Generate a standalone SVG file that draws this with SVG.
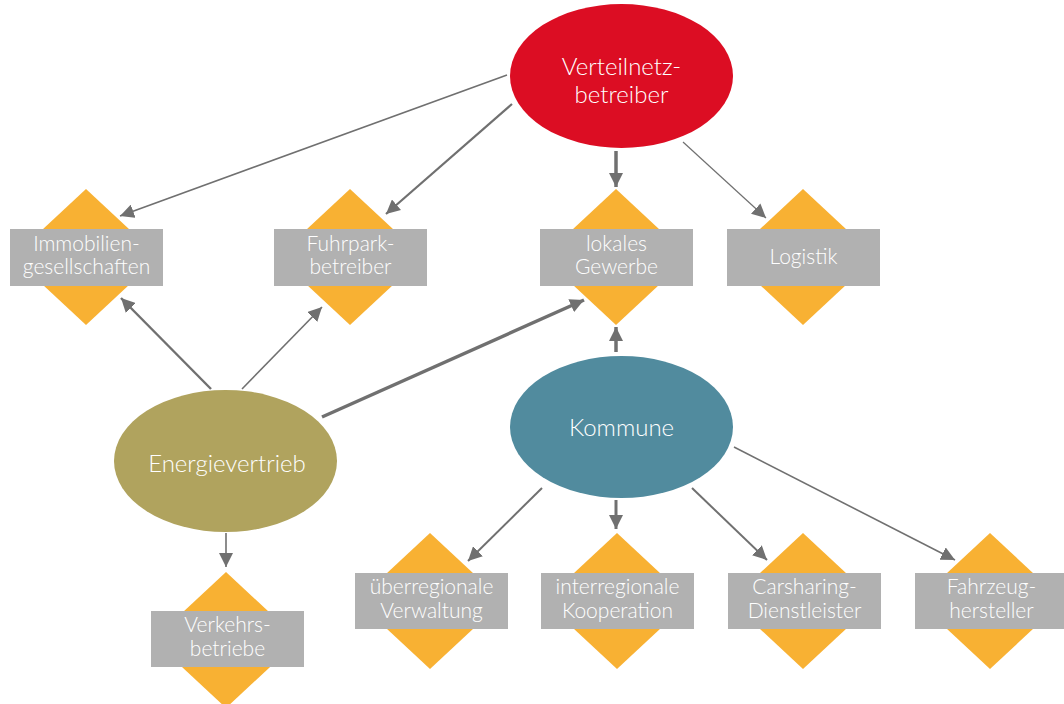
<svg xmlns="http://www.w3.org/2000/svg" width="1064" height="704" viewBox="0 0 1064 704">
  <style>
    .dia { fill: #F8B133; }
    .box { fill: #B1B1B1; }
    .lbl { font-family: Lato, "Open Sans", "Liberation Sans", sans-serif; font-weight: 300; fill: #FFFFFF; text-anchor: middle; }
    .sm { font-size: 21px; }
    .lg { font-size: 24px; }
    .edge { stroke: #707070; fill: none; }
  </style>
  <defs>
    <marker id="arrow" viewBox="0 0 14 14" refX="14" refY="7" markerWidth="14" markerHeight="14" markerUnits="userSpaceOnUse" orient="auto">
      <path d="M0,0 L14,7 L0,14 Z" fill="#707070"/>
    </marker>
  </defs>

  <!-- connectors -->
  <g id="connectors">
    <line class="edge" x1="507" y1="75" x2="120" y2="216" stroke-width="1.6" marker-end="url(#arrow)"/>
    <line class="edge" x1="512" y1="104" x2="386" y2="214" stroke-width="2.2" marker-end="url(#arrow)"/>
    <line class="edge" x1="616" y1="151" x2="616" y2="187" stroke-width="3.5" marker-end="url(#arrow)"/>
    <line class="edge" x1="683" y1="142" x2="766" y2="218" stroke-width="1.2" marker-end="url(#arrow)"/>
    <line class="edge" x1="211" y1="389" x2="121" y2="298" stroke-width="2.4" marker-end="url(#arrow)"/>
    <line class="edge" x1="242" y1="389" x2="322" y2="307" stroke-width="1.6" marker-end="url(#arrow)"/>
    <line class="edge" x1="322" y1="417" x2="584" y2="300" stroke-width="3.5" marker-end="url(#arrow)"/>
    <line class="edge" x1="616" y1="352" x2="616" y2="327" stroke-width="3.5" marker-end="url(#arrow)"/>
    <line class="edge" x1="226" y1="533" x2="226" y2="567" stroke-width="1.6" marker-end="url(#arrow)"/>
    <line class="edge" x1="542" y1="488" x2="468" y2="561" stroke-width="2" marker-end="url(#arrow)"/>
    <line class="edge" x1="616" y1="500" x2="616" y2="529" stroke-width="3" marker-end="url(#arrow)"/>
    <line class="edge" x1="692" y1="488" x2="767" y2="560" stroke-width="2" marker-end="url(#arrow)"/>
    <line class="edge" x1="734" y1="447" x2="955" y2="560" stroke-width="1.6" marker-end="url(#arrow)"/>
  </g>

  <!-- oval nodes -->
  <g id="verteilnetzbetreiber">
    <ellipse cx="621.5" cy="76" rx="111.5" ry="72" fill="#DC0D23"/>
    <text class="lbl lg" x="621.5" y="75">Verteilnetz-</text>
    <text class="lbl lg" x="621.5" y="103">betreiber</text>
  </g>
  <g id="energievertrieb">
    <ellipse cx="225.5" cy="461" rx="111.5" ry="71" fill="#B0A35E"/>
    <text class="lbl lg" x="227" y="472">Energievertrieb</text>
  </g>
  <g id="kommune">
    <ellipse cx="621.5" cy="427" rx="111.5" ry="71" fill="#518B9E"/>
    <text class="lbl lg" x="621.5" y="436">Kommune</text>
  </g>

  <!-- diamond nodes -->
  <g id="immobiliengesellschaften">
    <path class="dia" d="M86,189 L159,257 L86,325 L13,257 Z"/>
    <rect class="box" x="10" y="229" width="153" height="57"/>
    <text class="lbl sm" x="86.5" y="251">Immobilien-</text>
    <text class="lbl sm" x="86.5" y="274">gesellschaften</text>
  </g>
  <g id="fuhrparkbetreiber">
    <path class="dia" d="M350,189 L423,257 L350,325 L277,257 Z"/>
    <rect class="box" x="274" y="229" width="153" height="57"/>
    <text class="lbl sm" x="350.5" y="251">Fuhrpark-</text>
    <text class="lbl sm" x="350.5" y="274">betreiber</text>
  </g>
  <g id="lokales-gewerbe">
    <path class="dia" d="M616,189 L689,257 L616,325 L543,257 Z"/>
    <rect class="box" x="540" y="229" width="153" height="57"/>
    <text class="lbl sm" x="616.5" y="251">lokales</text>
    <text class="lbl sm" x="616.5" y="274">Gewerbe</text>
  </g>
  <g id="logistik">
    <path class="dia" d="M803,189 L876,257 L803,325 L730,257 Z"/>
    <rect class="box" x="727" y="229" width="153" height="57"/>
    <text class="lbl sm" x="803.5" y="264">Logistik</text>
  </g>
  <g id="verkehrsbetriebe">
    <path class="dia" d="M226,572 L299,640 L226,708 L153,640 Z"/>
    <rect class="box" x="151" y="611" width="153" height="56"/>
    <text class="lbl sm" x="227.5" y="632">Verkehrs-</text>
    <text class="lbl sm" x="227.5" y="656">betriebe</text>
  </g>
  <g id="ueberregionale-verwaltung">
    <path class="dia" d="M430,533 L503,601 L430,669 L357,601 Z"/>
    <rect class="box" x="355" y="573" width="153" height="56"/>
    <text class="lbl sm" x="431.5" y="594">überregionale</text>
    <text class="lbl sm" x="431.5" y="618">Verwaltung</text>
  </g>
  <g id="interregionale-kooperation">
    <path class="dia" d="M617,533 L690,601 L617,669 L544,601 Z"/>
    <rect class="box" x="541" y="573" width="153" height="56"/>
    <text class="lbl sm" x="617.5" y="594">interregionale</text>
    <text class="lbl sm" x="617.5" y="618">Kooperation</text>
  </g>
  <g id="carsharing-dienstleister">
    <path class="dia" d="M803,533 L876,601 L803,669 L730,601 Z"/>
    <rect class="box" x="728" y="573" width="153" height="56"/>
    <text class="lbl sm" x="804.5" y="594">Carsharing-</text>
    <text class="lbl sm" x="804.5" y="618">Dienstleister</text>
  </g>
  <g id="fahrzeughersteller">
    <path class="dia" d="M990,533 L1063,601 L990,669 L917,601 Z"/>
    <rect class="box" x="915" y="573" width="153" height="56"/>
    <text class="lbl sm" x="991.5" y="594">Fahrzeug-</text>
    <text class="lbl sm" x="991.5" y="618">hersteller</text>
  </g>
</svg>
